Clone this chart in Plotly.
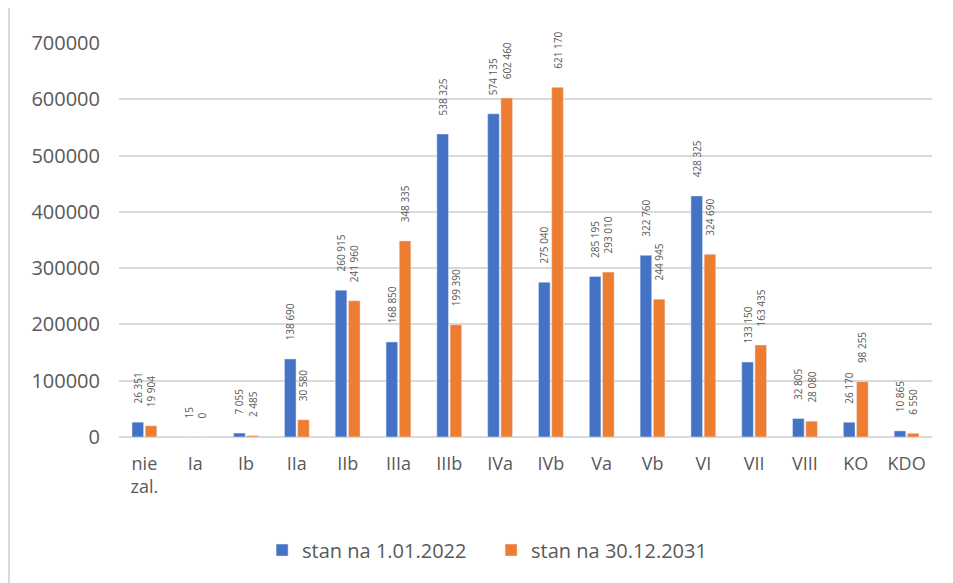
import plotly.graph_objects as go

categories = ["nie<br>zal.", "Ia", "Ib", "IIa", "IIb", "IIIa", "IIIb", "IVa", "IVb",
              "Va", "Vb", "VI", "VII", "VIII", "KO", "KDO"]
series_2022 = [26351, 15, 7055, 138690, 260915, 168850, 538325, 574135, 275040,
               285195, 322760, 428325, 133150, 32805, 26170, 10865]
series_2031 = [19904, 0, 2485, 30580, 241960, 348335, 199390, 602460, 621170,
               293010, 244945, 324690, 163435, 28080, 98255, 6550]
name_2022 = "stan na 1.01.2022"
name_2031 = "stan na 30.12.2031"
y_ticks = [0, 100000, 200000, 300000, 400000, 500000, 600000, 700000]

PAD = "\u00a0" * 6


def fmt(v):
    return PAD + f"{v:,}".replace(",", " ")


FONT = "Open Sans"
GRAY = "#595959"

fig = go.Figure()
for vals, name, color in [(series_2022, name_2022, "#4472C4"),
                          (series_2031, name_2031, "#ED7D31")]:
    fig.add_trace(go.Bar(
        x=categories, y=vals, name=name,
        marker=dict(color=color),
        text=[fmt(v) for v in vals], textposition="outside", textangle=-90,
        constraintext="none",
        textfont=dict(size=10, color=GRAY, family=FONT), cliponaxis=False,
    ))

fig.update_layout(
    width=945, height=575,
    margin=dict(l=111, r=21, t=35, b=146),
    paper_bgcolor="white", plot_bgcolor="white",
    barmode="group", bargap=0.48, bargroupgap=0.12,
    font=dict(family=FONT, color=GRAY, size=18),
    legend=dict(orientation="h", x=0.176, xanchor="left", y=-0.287, yanchor="middle",
                font=dict(size=20, color=GRAY), itemwidth=30, entrywidth=184,
                traceorder="normal"),
    xaxis=dict(showgrid=False, showline=False, ticks="", ticklabelstandoff=14,
               tickfont=dict(size=18, color=GRAY)),
    yaxis=dict(range=[0, 700000], tickvals=y_ticks, tickformat="d",
               showgrid=True, gridcolor="#d9d9d9", gridwidth=1.5,
               zeroline=True, zerolinecolor="#d9d9d9", zerolinewidth=1.5,
               ticks="", ticklabelstandoff=18, tickfont=dict(size=20, color=GRAY)),
    shapes=[dict(type="line", xref="paper", yref="paper", x0=-0.1353, x1=-0.1353,
                 y0=-0.4, y1=1.12, line=dict(color="#d9d9d9", width=2))],
)

fig.write_html("out.html")
